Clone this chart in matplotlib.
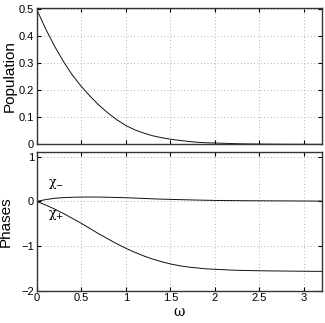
import matplotlib
matplotlib.use("Agg")
import matplotlib.pyplot as plt

plt.rcParams['font.family'] = ['Liberation Sans', 'DejaVu Sans']

# frequency grid (every 0.1)
omega = [0.0, 0.1, 0.2, 0.3, 0.4, 0.5, 0.6, 0.7, 0.8, 0.9,
         1.0, 1.1, 1.2, 1.3, 1.4, 1.5, 1.6, 1.7, 1.8, 1.9,
         2.0, 2.1, 2.2, 2.3, 2.4, 2.5, 2.6, 2.7, 2.8, 2.9,
         3.0, 3.1, 3.2]

population = [0.500, 0.428, 0.364, 0.307, 0.257, 0.215, 0.178, 0.145, 0.116, 0.091,
              0.070, 0.054, 0.042, 0.032, 0.025, 0.019, 0.015, 0.011, 0.008, 0.006,
              0.005, 0.004, 0.003, 0.002, 0.0016, 0.0012, 0.0009, 0.0007, 0.0005, 0.0004,
              0.0003, 0.0002, 0.0001]

chi_minus = [0.0, 0.040, 0.070, 0.085, 0.093, 0.097, 0.098, 0.097, 0.093, 0.088,
             0.082, 0.075, 0.066, 0.058, 0.051, 0.045, 0.040, 0.035, 0.030, 0.026,
             0.022, 0.020, 0.018, 0.016, 0.015, 0.014, 0.013, 0.012, 0.011, 0.010,
             0.009, 0.008, 0.007]

chi_plus = [0.0, -0.08, -0.17, -0.27, -0.38, -0.49, -0.61, -0.73, -0.84, -0.95,
            -1.05, -1.14, -1.22, -1.29, -1.35, -1.40, -1.44, -1.47, -1.49, -1.51,
            -1.52, -1.53, -1.54, -1.545, -1.55, -1.553, -1.556, -1.558, -1.56, -1.562,
            -1.564, -1.566, -1.567]

x_ticks = [0, 0.5, 1, 1.5, 2, 2.5, 3]
x_tick_labels = ['0', '0.5', '1', '1.5', '2', '2.5', '3']
pop_ticks = [0, 0.1, 0.2, 0.3, 0.4, 0.5]
pop_tick_labels = ['0', '0.1', '0.2', '0.3', '0.4', '0.5']
phase_ticks = [-2, -1, 0, 1]
phase_tick_labels = ['\u22122', '\u22121', '0', '1']

fig = plt.figure(figsize=(3.25, 3.23), dpi=100)
ax1 = fig.add_axes([0.113, 0.553, 0.877, 0.422])
ax2 = fig.add_axes([0.113, 0.100, 0.877, 0.4285])

def style(ax):
    ax.grid(True, linestyle=(0, (1, 3)), color='#999999', linewidth=0.6)
    ax.tick_params(direction='in', length=3, width=0.8, labelsize=8, pad=2,
                   top=True, right=True)
    for s in ax.spines.values():
        s.set_linewidth(1.0)
        s.set_color('#333333')
    ax.set_xlim(0, 3.2)
    ax.set_xticks(x_ticks)

ax1.plot(omega, population, color='#111111', linewidth=0.7)
style(ax1)
ax1.set_ylim(0, 0.505)
ax1.set_yticks(pop_ticks)
ax1.set_yticklabels(pop_tick_labels)
ax1.set_xticklabels([])
ax1.set_ylabel('Population', fontsize=11, labelpad=1)

ax2.plot(omega, chi_minus, color='#111111', linewidth=0.7)
ax2.plot(omega, chi_plus, color='#111111', linewidth=0.7)
style(ax2)
ax2.set_ylim(-2, 1.1)
ax2.set_yticks(phase_ticks)
ax2.set_yticklabels(phase_tick_labels)
ax2.set_xticklabels(x_tick_labels)
ax2.set_ylabel('Phases', fontsize=11, labelpad=6)
ax2.set_xlabel('\u03c9', fontsize=10, labelpad=1, family=['DejaVu Serif'])
ax2.text(0.13, 0.35, '\u03c7$_{\u2212}$', fontsize=9, family=['DejaVu Serif'])
ax2.text(0.13, -0.35, '\u03c7$_{+}$', fontsize=9, family=['DejaVu Serif'])

fig.savefig('out.png', dpi=100)
